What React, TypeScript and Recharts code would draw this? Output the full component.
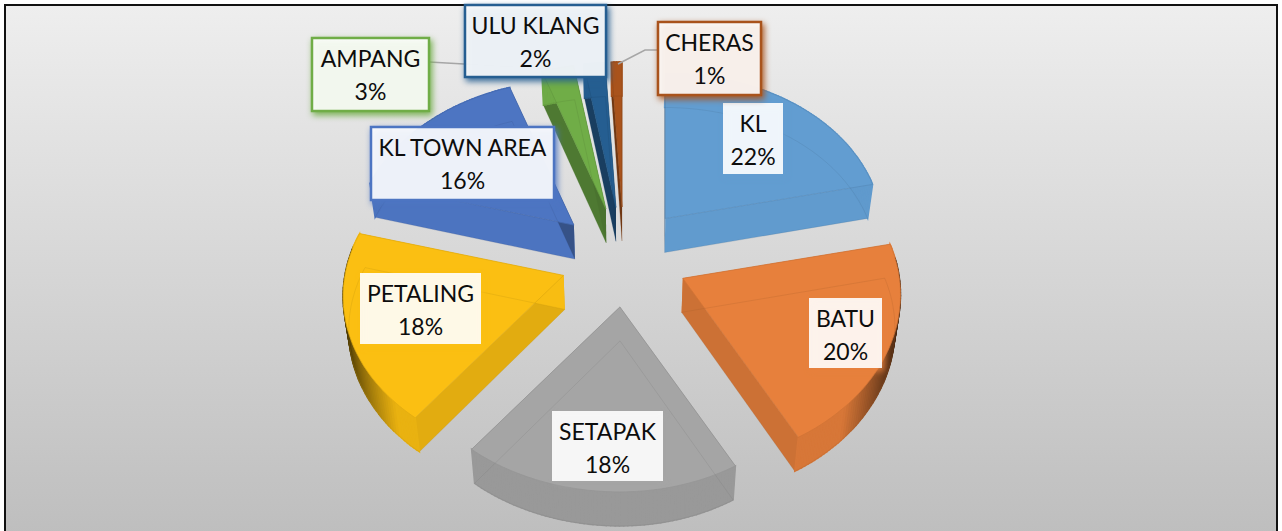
import { PieChart, Pie, Cell } from "recharts";

const CATEGORIES = ["KL", "BATU", "SETAPAK", "PETALING", "KL TOWN AREA", "AMPANG", "ULU KLANG", "CHERAS"];
const SHARES = [22, 20, 18, 18, 16, 3, 2, 1];
const COLORS = ["#629dd1", "#e7803c", "#a5a5a5", "#fbbf12", "#4d75c2", "#70ad47", "#255e91", "#a9531c"];

// label boxes: x, y, w, h, outlined or not, leader line
const LABEL_BOXES = [
  { x: 723, y: 103, w: 60, h: 71, border: false, leader: "" },
  { x: 809, y: 298, w: 73, h: 70, border: false, leader: "" },
  { x: 552, y: 411, w: 111, h: 70, border: false, leader: "" },
  { x: 360, y: 273, w: 121, h: 71, border: false, leader: "" },
  { x: 371, y: 127, w: 183, h: 73, border: true, leader: "" },
  { x: 312, y: 38, w: 117, h: 73, border: true, leader: "429,62 464,64 550,69" },
  { x: 465, y: 5, w: 141, h: 72, border: true, leader: "" },
  { x: 658, y: 22, w: 103, h: 73, border: true, leader: "657,50 645,50 618,64" },
];

const WIDTH = 1282;
const HEIGHT = 531;
const DEPTH = 34;

function shade(hex: string, f: number) {
  const n = parseInt(hex.slice(1), 16);
  const c = [(n >> 16) & 255, (n >> 8) & 255, n & 255].map((v) => Math.round(v * f));
  return `rgb(${c[0]},${c[1]},${c[2]})`;
}

const rad = (d: number) => (d * Math.PI) / 180;

// tilted view of the pie: things lower on screen are drawn a bit bigger
function tilted(props: any, angle?: number) {
  const { cx, cy, outerRadius, midAngle } = props;
  const k = outerRadius / 216;
  const m = rad(90 - midAngle);
  const apex: [number, number] = [cx + 65 * k * Math.sin(m), cy - 50 * k * Math.cos(m)];
  if (angle === undefined) return apex;
  const t = rad(90 - angle);
  const u = Math.sin(t);
  const v = -Math.cos(t);
  const wide = u > 0 ? 216 + 27 * v : 216 + 45 * v;
  const lift = (u > 0 ? 4 : 12) * u * u;
  return [apex[0] + u * wide * k, apex[1] + (v * (165 + 20 * v) - lift) * k] as [number, number];
}

function path(pts: number[][]) {
  return pts.map((p, i) => `${i ? "L" : "M"}${p[0].toFixed(1)} ${p[1].toFixed(1)}`).join(" ") + " Z";
}

function wallShade(angle: number) {
  const c = Math.cos(rad(90 - angle));
  return 1 - (c > 0 ? 0.35 : 0.15) * c * c;
}

function Slice(props: any) {
  const { startAngle, endAngle, fill, cx } = props;
  // lower face sits a little closer to the pie's centre line
  const low = (p: number[]) => [p[0] - 0.02 * (p[0] - cx), p[1] + DEPTH];
  const apex = tilted(props);
  const steps = Math.max(4, Math.ceil(Math.abs(endAngle - startAngle)));
  const arc: number[][] = [];
  for (let i = 0; i <= steps; i++) {
    arc.push(tilted(props, startAngle + ((endAngle - startAngle) * i) / steps));
  }
  const first = arc[0];
  const last = arc[arc.length - 1];
  const face = [apex, ...arc];
  const rim = arc.slice(1).map((p, i) => {
    const q = arc[i];
    const a = startAngle + ((endAngle - startAngle) * (i + 0.5)) / steps;
    const u = Math.abs(Math.sin(rad(90 - a)));
    const down = Math.cos(rad(90 - a)) < 0.1;
    const dark = down ? Math.min(1, Math.max(0, (u - 0.68) / 0.3)) * 0.65 : 0;
    const col = shade(fill, (down ? 0.93 : 0.98) - dark);
    return <path key={i} d={path([q, p, low(p), low(q)])} fill={col} stroke={col} strokeWidth={1.5} />;
  });
  return (
    <g>
      <path d={path([apex, first, low(first), low(apex)])} fill={shade(fill, wallShade(startAngle))} />
      <path d={path([apex, last, low(last), low(apex)])} fill={shade(fill, wallShade(endAngle))} />
      {rim}
      <path d={path(face)} fill={fill} stroke={shade(fill, 0.9)} strokeWidth={0.8} />
      <path d={path(face.map(low))} fill="none" stroke={shade(fill, 0.7)} strokeOpacity={0.2} strokeWidth={1} />
    </g>
  );
}

function SliceLabel(props: any) {
  const { index, name, value } = props;
  const b = LABEL_BOXES[index];
  const color = COLORS[index];
  const mid = b.x + b.w / 2;
  return (
    <g>
      {b.leader && <polyline points={b.leader} fill="none" stroke="#a6a6a6" strokeWidth={1.5} />}
      <rect
        x={b.x}
        y={b.y}
        width={b.w}
        height={b.h}
        fill="#ffffff"
        fillOpacity={0.9}
        stroke={b.border ? color : "none"}
        strokeWidth={2.5}
        style={{ filter: `drop-shadow(2px 3px 3px ${color})` }}
      />
      <text x={mid} y={b.y + 29} textAnchor="middle" fontFamily="Lato" fontSize={23} fill="#0d0d0d">
        {name}
      </text>
      <text x={mid} y={b.y + 62} textAnchor="middle" fontFamily="Lato" fontSize={23} fill="#0d0d0d">
        {value}%
      </text>
    </g>
  );
}

const tableData = CATEGORIES.map((name, i) => ({ name, value: SHARES[i] }));

export default function App() {
  return (
    <div style={{ position: "absolute", left: 0, top: 0, width: WIDTH, height: HEIGHT, overflow: "hidden", background: "#fff" }}>
      <div
        style={{
          position: "absolute",
          left: 4,
          top: 4,
          width: 1270,
          height: 540,
          border: "2px solid #111",
          background: "linear-gradient(#eeeeee, #bdbdbd)",
        }}
      />
      <div style={{ position: "absolute", left: 0, top: 0 }}>
        <PieChart width={WIDTH} height={HEIGHT} margin={{ top: 0, right: 0, bottom: 0, left: 0 }}>
          <Pie
            data={tableData}
            dataKey="value"
            nameKey="name"
            cx={624}
            cy={257}
            outerRadius={216}
            startAngle={90}
            endAngle={-270}
            stroke="none"
            shape={Slice}
            label={SliceLabel}
            labelLine={false}
            isAnimationActive={false}
          >
            {tableData.map((_, i) => (
              <Cell key={`cell-${i}`} fill={COLORS[i]} />
            ))}
          </Pie>
        </PieChart>
      </div>
    </div>
  );
}
